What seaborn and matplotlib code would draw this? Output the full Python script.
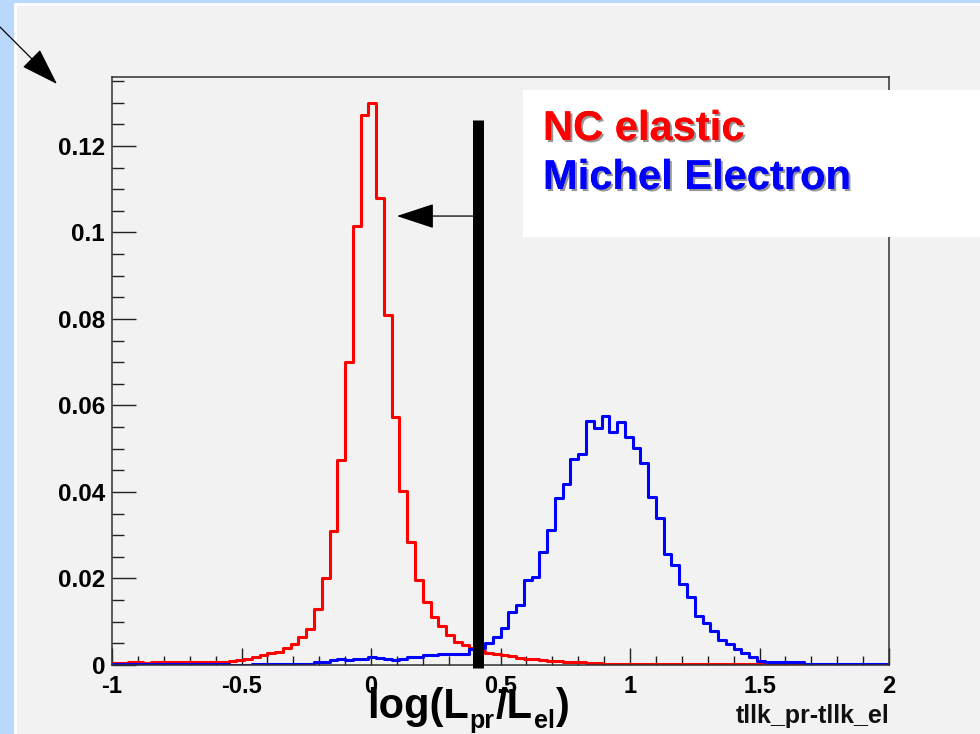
import numpy as np
import pandas as pd
import matplotlib
matplotlib.use("Agg")
import matplotlib.pyplot as plt
import matplotlib.patheffects as pe
from matplotlib.patches import Rectangle
import seaborn as sns

# histogram binning: 100 bins over [-1, 2]
bin_edges = np.linspace(-1.0, 2.0, 101).tolist()

# NC elastic (red), one value per bin
nc_elastic = [
    0.0004, 0.0004, 0.0006, 0.0006, 0.0005, 0.0006, 0.0006, 0.0006, 0.0006, 0.0006,
    0.0006, 0.0007, 0.0007, 0.0007, 0.0008, 0.0010, 0.0012, 0.0015, 0.0019, 0.0023,
    0.0027, 0.0031, 0.0040, 0.0048, 0.0064, 0.0084, 0.0130, 0.0200, 0.0310, 0.0475,
    0.0700, 0.1015, 0.1272, 0.1300, 0.1080, 0.0810, 0.0574, 0.0403, 0.0285, 0.0196,
    0.0145, 0.0110, 0.0090, 0.0070, 0.0054, 0.0046, 0.0040, 0.0032, 0.0028, 0.0025,
    0.0022, 0.0020, 0.0017, 0.0015, 0.0013, 0.0012, 0.0010, 0.0009, 0.0007, 0.0006,
    0.0006, 0.0005, 0.0005, 0.0003, 0.0003, 0.0003, 0.0003, 0.0003, 0.0003, 0.0003,
    0.0003, 0.0003, 0.0003, 0.0003, 0.0003, 0.0003, 0.0002, 0.0002, 0.0002, 0.0002,
    0.0002, 0.0002, 0.0002, 0.0002, 0.0002, 0.0002, 0.0002, 0.0002, 0.0002, 0.0001,
    0.0001, 0.0001, 0.0001, 0.0001, 0.0001, 0.0000, 0.0000, 0.0000, 0.0000, 0.0000,
]

# Michel electron (blue), one value per bin
michel = [
    0.0002, 0.0003, 0.0002, 0.0003, 0.0002, 0.0002, 0.0003, 0.0002, 0.0002, 0.0003,
    0.0002, 0.0002, 0.0003, 0.0002, 0.0002, 0.0001, 0.0001, 0.0001, 0.0002, 0.0002,
    0.0002, 0.0002, 0.0002, 0.0002, 0.0002, 0.0002, 0.0006, 0.0008, 0.0012, 0.0013,
    0.0011, 0.0014, 0.0015, 0.0018, 0.0017, 0.0014, 0.0012, 0.0014, 0.0018, 0.0018,
    0.0022, 0.0024, 0.0025, 0.0025, 0.0025, 0.0025, 0.0036, 0.0040, 0.0052, 0.0064,
    0.0086, 0.0122, 0.0138, 0.0197, 0.0203, 0.0261, 0.0312, 0.0387, 0.0418, 0.0476,
    0.0487, 0.0564, 0.0547, 0.0575, 0.0539, 0.0561, 0.0526, 0.0502, 0.0466, 0.0389,
    0.0339, 0.0257, 0.0231, 0.0187, 0.0158, 0.0114, 0.0097, 0.0078, 0.0058, 0.0049,
    0.0036, 0.0028, 0.0019, 0.0009, 0.0008, 0.0006, 0.0006, 0.0006, 0.0006, 0.0003,
    0.0003, 0.0003, 0.0003, 0.0003, 0.0003, 0.0002, 0.0002, 0.0002, 0.0002, 0.0002,
]

x_ticks = [-1, -0.5, 0, 0.5, 1, 1.5, 2]
x_tick_labels = ["-1", "-0.5", "0", "0.5", "1", "1.5", "2"]
y_ticks = [0, 0.02, 0.04, 0.06, 0.08, 0.1, 0.12]
y_tick_labels = ["0", "0.02", "0.04", "0.06", "0.08", "0.1", "0.12"]

cut_value = 0.415  # selection cut drawn as thick black bar
legend_labels = ["NC elastic", "Michel Electron"]

W, H = 980, 734
BG = "#f2f2f2"
SLIDE_BLUE = "#bad8fc"

sns.set_theme(style="ticks")
plt.rcParams["font.family"] = ["Liberation Sans", "DejaVu Sans"]
plt.rcParams["font.weight"] = "bold"

fig = plt.figure(figsize=(W / 100, H / 100), dpi=100)
fig.patch.set_facecolor(SLIDE_BLUE)
fig.patches.append(Rectangle((15 / W, -0.01), 1.0, (H - 4) / H + 0.01,
                             transform=fig.transFigure, facecolor=BG,
                             edgecolor="white", linewidth=2, zorder=-1))

ax = fig.add_axes([112 / W, 1 - 665 / H, (889 - 112) / W, (665 - 77) / H])
ax.set_facecolor(BG)

centers = [(a + b) / 2 for a, b in zip(bin_edges[:-1], bin_edges[1:])]
colors = {legend_labels[0]: "#ff0000", legend_labels[1]: "#0000ff"}
for label, vals in zip(legend_labels, [nc_elastic, michel]):
    df = pd.DataFrame({"x": centers, "w": vals})
    sns.histplot(data=df, x="x", weights="w", bins=bin_edges,
                 element="step", fill=False, linewidth=2.2,
                 color=colors[label], ax=ax)

ax.set_xlim(-1, 2)
ax.set_ylim(0, 0.13595)
ax.set_xlabel("")
ax.set_ylabel("")

ax.set_xticks(x_ticks)
ax.set_xticklabels(x_tick_labels)
ax.set_xticks(np.arange(-1, 2.001, 0.1), minor=True)
ax.set_yticks(y_ticks)
ax.set_yticklabels(y_tick_labels)
ax.set_yticks(np.arange(0, 0.1355, 0.005), minor=True)

ax.tick_params(axis="x", which="major", direction="in", length=12.2, width=1.0,
               pad=7, labelsize=17, colors="#202020", labelcolor="black")
ax.tick_params(axis="x", which="minor", direction="in", length=6.3, width=1.0,
               colors="#202020")
ax.tick_params(axis="y", which="major", direction="in", length=17.3, width=1.0,
               pad=5, labelsize=17.5, colors="#202020", labelcolor="black")
ax.tick_params(axis="y", which="minor", direction="in", length=8.6, width=1.0,
               colors="#202020")
for lab in ax.get_xticklabels() + ax.get_yticklabels():
    lab.set_fontweight("bold")
for s in ax.spines.values():
    s.set_visible(True)
    s.set_color("#303030")
    s.set_linewidth(1.1)

# cut bar and arrow
ax.plot([cut_value, cut_value], [-0.0007, 0.126], color="black", linewidth=7.9,
        solid_capstyle="butt", clip_on=False, zorder=5)
ax.annotate("", xy=(0.10, 0.1038), xytext=(cut_value, 0.1038),
            arrowprops=dict(arrowstyle="-|>,head_length=1.0,head_width=0.33",
                            mutation_scale=24, lw=0.9, color="black",
                            shrinkA=0, shrinkB=0), zorder=5)

# arrow in the top-left corner
ax.annotate("", xy=(57, H - 84), xycoords="figure pixels",
            xytext=(0, H - 27), textcoords="figure pixels",
            arrowprops=dict(arrowstyle="-|>,head_length=1.0,head_width=0.33",
                            mutation_scale=24, lw=0.9, color="black",
                            shrinkA=0, shrinkB=0), annotation_clip=False)

# axis title (ROOT style, bottom right)
fig.text(889 / W, 1 - 723 / H, "tllk_pr-tllk_el", ha="right", va="baseline",
         fontsize=18, fontweight="bold", color="#111111")

# big hand-written label log(L_pr/L_el), built piece by piece
renderer = fig.canvas.get_renderer()
pieces = [("log(L", 30, 0), ("pr", 18, 10), ("/L", 30, 0), ("el", 18, 10), (")", 30, 0)]
x_px = 367
for txt, size, drop in pieces:
    t = fig.text(x_px / W, 1 - (718 + drop) / H, txt, ha="left", va="baseline",
                 fontsize=size, fontweight="bold", color="black", zorder=6)
    x_px = t.get_window_extent(renderer).x1 + 1

# legend box
fig.patches.append(Rectangle((523 / W, 1 - 237 / H), (W - 523) / W, (237 - 90) / H,
                             transform=fig.transFigure, facecolor="white",
                             edgecolor="none", zorder=2))
shadow = [pe.withSimplePatchShadow(offset=(1.5, -1.5), shadow_rgbFace="#404040",
                                   alpha=0.55), pe.Normal()]
fig.text(543 / W, 1 - 140 / H, legend_labels[0], color="#ff0000", fontsize=30,
         fontweight="bold", ha="left", va="baseline", zorder=3, path_effects=shadow)
fig.text(543 / W, 1 - 189 / H, legend_labels[1], color="#0000ff", fontsize=30,
         fontweight="bold", ha="left", va="baseline", zorder=3, path_effects=shadow)

fig.savefig("out.png", dpi=100, facecolor=fig.get_facecolor())
